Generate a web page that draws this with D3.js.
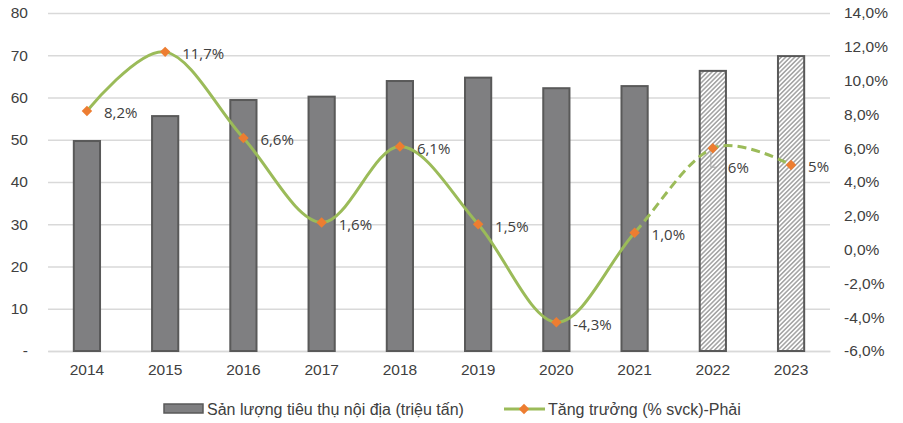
<!DOCTYPE html>
<html>
<head>
<meta charset="utf-8">
<script src="https://cdn.jsdelivr.net/npm/d3@7/dist/d3.min.js"></script>
<style>
  html, body { margin: 0; padding: 0; background: #fff; }
  svg { display: block; }
  .tick text { font-family: "Liberation Sans", Arial, sans-serif; font-size: 15.5px; fill: #404040; }
</style>
</head>
<body>
<svg id="chart" width="903" height="423"></svg>
<script>
// Domestic consumption (million tonnes) and y/y growth (%)
const years = ["2014", "2015", "2016", "2017", "2018", "2019", "2020", "2021", "2022", "2023"];
const volume = [49.7, 55.6, 59.4, 60.2, 63.9, 64.7, 62.2, 62.7, 66.3, 69.8];
const growth = [8.2, 11.7, 6.6, 1.6, 6.1, 1.5, -4.3, 1.0, 6, 5];
const growthLabels = ["8,2%", "11,7%", "6,6%", "1,6%", "6,1%", "1,5%", "-4,3%", "1,0%", "6%", "5%"];
const forecastYears = ["2022", "2023"];
const leftTicks = [0, 10, 20, 30, 40, 50, 60, 70, 80];
const rightTicks = [-6, -4, -2, 0, 2, 4, 6, 8, 10, 12, 14];
const legendNames = ["Sản lượng tiêu thụ nội địa (triệu tấn)", "Tăng trưởng (% svck)-Phải"];

const svg = d3.select("#chart");
const plot = { left: 48, right: 830, top: 13, bottom: 351 };

const x = d3.scaleBand().domain(years).range([plot.left, plot.right]).paddingInner(0.665).paddingOuter(0.33);
const yL = d3.scaleLinear().domain([0, 80]).range([plot.bottom, plot.top]);
const yR = d3.scaleLinear().domain([-6, 14]).range([plot.bottom, plot.top]);

const defs = svg.append("defs");
const hatch = defs.append("pattern")
  .attr("id", "hatch").attr("patternUnits", "userSpaceOnUse")
  .attr("width", 3.2).attr("height", 4)
  .attr("patternTransform", "rotate(45)");
hatch.append("rect").attr("width", 3.2).attr("height", 4).attr("fill", "#fff");
hatch.append("line").attr("x1", 0.8).attr("y1", 0).attr("x2", 0.8).attr("y2", 4)
  .attr("stroke", "#8e8e8e").attr("stroke-width", 1.25);

// Gridlines
const grid = svg.append("g").attr("transform", `translate(${plot.left},0)`)
  .call(d3.axisLeft(yL).tickValues(leftTicks).tickSize(-(plot.right - plot.left)).tickFormat(""));
grid.select(".domain").remove();
grid.selectAll(".tick line").attr("stroke", "#d9d9d9").attr("stroke-width", 1.5);

// Left axis
const axL = svg.append("g").attr("transform", "translate(28,0)")
  .call(d3.axisLeft(yL).tickValues(leftTicks).tickSize(0).tickPadding(0)
    .tickFormat(d => d === 0 ? "-" : d3.format("d")(d)));
axL.select(".domain").remove();

// Right axis
const fmtPct = d => d.toFixed(1).replace(".", ",") + "%";
const axR = svg.append("g").attr("transform", "translate(844,0)")
  .call(d3.axisRight(yR).tickValues(rightTicks).tickSize(0).tickPadding(0).tickFormat(fmtPct));
axR.select(".domain").remove();

// Bottom axis
const axB = svg.append("g").attr("transform", `translate(0,${plot.bottom})`)
  .call(d3.axisBottom(x).tickSize(0).tickPadding(13));
axB.select(".domain").attr("stroke", "#d9d9d9").attr("stroke-width", 1.5);

// Bars
svg.append("g").selectAll("rect")
  .data(years.map((y, i) => ({ year: y, v: volume[i] })))
  .join("rect")
  .attr("x", d => x(d.year))
  .attr("y", d => yL(d.v))
  .attr("width", x.bandwidth())
  .attr("height", d => yL(0) - yL(d.v))
  .attr("fill", d => forecastYears.includes(d.year) ? "url(#hatch)" : "#7f7f81")
  .attr("stroke", "#595959")
  .attr("stroke-width", 2);

// Growth line: solid for actuals, dashed for forecast
const pts = years.map((y, i) => [x(y) + x.bandwidth() / 2, yR(growth[i])]);
const line = d3.line().curve(d3.curveCardinal.tension(0));
const splitX = x("2021") + x.bandwidth() / 2;
defs.append("clipPath").attr("id", "clipSolid").append("rect")
  .attr("x", 0).attr("y", 0).attr("width", splitX).attr("height", 423);
defs.append("clipPath").attr("id", "clipDash").append("rect")
  .attr("x", splitX).attr("y", 0).attr("width", 903 - splitX).attr("height", 423);

svg.append("path").attr("d", line(pts)).attr("fill", "none")
  .attr("stroke", "#9bbb59").attr("stroke-width", 3).attr("clip-path", "url(#clipSolid)");
svg.append("path").attr("d", line(pts)).attr("fill", "none")
  .attr("stroke", "#9bbb59").attr("stroke-width", 3)
  .attr("stroke-dasharray", "9,5").attr("clip-path", "url(#clipDash)");

// Leader line for the 2022 label
const p22 = pts[8];
svg.append("path")
  .attr("d", `M${p22[0] - 2},${p22[1] + 3}V${p22[1] + 19}H${p22[0] + 4}`)
  .attr("fill", "none").attr("stroke", "#a6a6a6").attr("stroke-width", 1);

// Markers
const diamond = d3.symbol().type(d3.symbolDiamond2).size(70);
svg.append("g").selectAll("path")
  .data(pts).join("path")
  .attr("transform", d => `translate(${d[0]},${d[1]})`)
  .attr("d", diamond)
  .attr("fill", "#ed7d31");

// Data labels
svg.append("g").selectAll("text")
  .data(pts.map((p, i) => ({ p, t: growthLabels[i], i })))
  .join("text")
  .attr("x", d => d.i === 8 ? d.p[0] + 15 : d.p[0] + 17)
  .attr("y", d => d.i === 8 ? d.p[1] + 20 : d.p[1] + 2)
  .attr("dy", "0.35em")
  .attr("font-family", "'Open Sans', sans-serif")
  .attr("font-size", 15)
  .attr("fill", "#404040")
  .text(d => d.t);

// Legend
const lg = svg.append("g").attr("font-family", "'Liberation Sans', Arial, sans-serif")
  .attr("font-size", 16).attr("fill", "#404040");
lg.append("rect").attr("x", 164).attr("y", 404).attr("width", 39).attr("height", 9)
  .attr("fill", "#7f7f81").attr("stroke", "#595959").attr("stroke-width", 1.5);
lg.append("text").attr("x", 207).attr("y", 409).attr("dy", "0.35em").text(legendNames[0]);
lg.append("line").attr("x1", 504).attr("x2", 545).attr("y1", 409).attr("y2", 409)
  .attr("stroke", "#9bbb59").attr("stroke-width", 3);
lg.append("path").attr("transform", "translate(524,409)").attr("d", diamond).attr("fill", "#ed7d31");
lg.append("text").attr("x", 548).attr("y", 409).attr("dy", "0.35em").text(legendNames[1]);
</script>
</body>
</html>
